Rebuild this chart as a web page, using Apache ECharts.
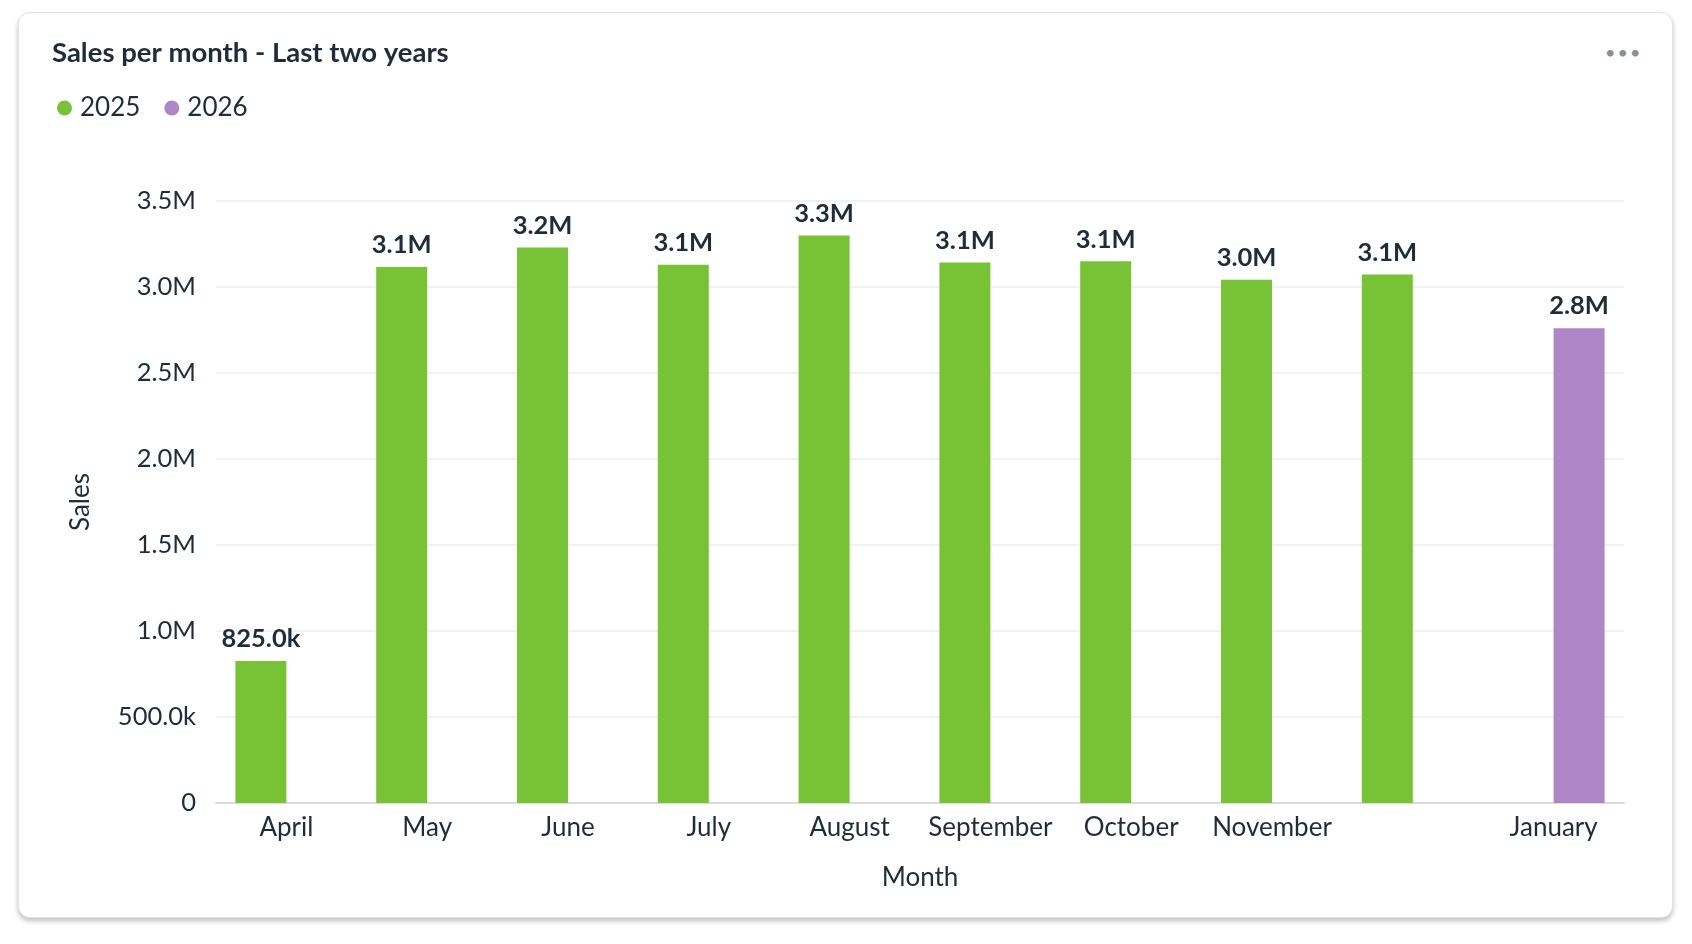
<!DOCTYPE html>
<html>
<head>
<meta charset="utf-8">
<script src="https://cdn.jsdelivr.net/npm/echarts@6/dist/echarts.min.js"></script>
<style>
  html, body { margin: 0; padding: 0; background: #ffffff; width: 1692px; height: 944px; overflow: hidden; }
  #card { position: absolute; left: 18px; top: 12px; width: 1655px; height: 906px; border: 1px solid #e2e2e2; border-radius: 12px; background: #fff; box-shadow: 0 3px 5px rgba(0,0,0,0.25); box-sizing: border-box; }
  #dots { position: absolute; left: 1605px; top: 42px; font-family: Lato, sans-serif; font-size: 18px; color: #8a8f95; letter-spacing: 2px; line-height: 20px; }
  #chart { position: absolute; left: 0; top: 0; width: 1692px; height: 944px; }
</style>
</head>
<body>
<div id="card"></div>
<div id="dots">&#8226;&#8226;&#8226;</div>
<div id="chart"></div>
<script>
const months = ['April', 'May', 'June', 'July', 'August', 'September', 'October', 'November', 'December', 'January'];
const sales2025 = [825000, 3117000, 3230000, 3130000, 3299000, 3142000, 3149000, 3042000, 3073000, null];
const sales2026 = [null, null, null, null, null, null, null, null, null, 2760000];
const hiddenLabels = ['December'];

function fmt(v) {
  if (v === 0) return '0';
  if (Math.abs(v) >= 1e6) return (v / 1e6).toFixed(1) + 'M';
  return (v / 1e3).toFixed(1) + 'k';
}

const textColor = '#1f2d3a';
const chart = echarts.init(document.getElementById('chart'), null, { renderer: 'canvas' });
const labelCfg = {
  show: true, position: 'top', distance: 9,
  fontFamily: 'Lato', fontWeight: 'bold', fontSize: 25.5, color: textColor,
  formatter: p => fmt(p.value)
};
chart.setOption({
  backgroundColor: 'transparent',
  animation: false,
  textStyle: { fontFamily: 'Lato' },
  title: {
    text: 'Sales per month - Last two years',
    left: 47, top: 34,
    textStyle: { fontFamily: 'Lato', fontWeight: 'bold', fontSize: 27.5, color: textColor }
  },
  legend: {
    left: 52, top: 90,
    icon: 'circle', itemWidth: 15, itemHeight: 15, itemGap: 24,
    textStyle: { fontFamily: 'Lato', fontSize: 26, color: textColor, padding: [0, 0, 0, 3] },
    data: ['2025', '2026']
  },
  grid: { left: 216, right: 68, top: 201, bottom: 141, containLabel: false },
  xAxis: {
    type: 'category',
    data: months,
    name: 'Month', nameLocation: 'middle', nameGap: 62,
    nameTextStyle: { fontFamily: 'Lato', fontSize: 26, color: textColor },
    axisLine: { show: true, lineStyle: { color: '#dcdcdc', width: 2 } },
    axisTick: { show: false },
    axisLabel: {
      margin: 12, fontFamily: 'Lato', fontSize: 26, color: textColor,
      interval: (i, v) => hiddenLabels.indexOf(v) === -1
    }
  },
  yAxis: {
    type: 'value',
    min: 0, max: 3500000, interval: 500000,
    name: 'Sales', nameLocation: 'middle', nameGap: 122,
    nameTextStyle: { fontFamily: 'Lato', fontSize: 26, color: textColor },
    axisLine: { show: false }, axisTick: { show: false },
    axisLabel: { margin: 20, fontFamily: 'Lato', fontSize: 25.5, color: textColor, formatter: v => fmt(v) },
    splitLine: { lineStyle: { color: '#ececec', width: 1.5 } }
  },
  series: [
    { name: '2025', type: 'bar', data: sales2025, barWidth: 51, barGap: '0%', itemStyle: { color: '#78c235' }, label: labelCfg },
    { name: '2026', type: 'bar', data: sales2026, barWidth: 51, barGap: '0%', itemStyle: { color: '#ae85c7' }, label: labelCfg }
  ]
});
</script>
</body>
</html>
